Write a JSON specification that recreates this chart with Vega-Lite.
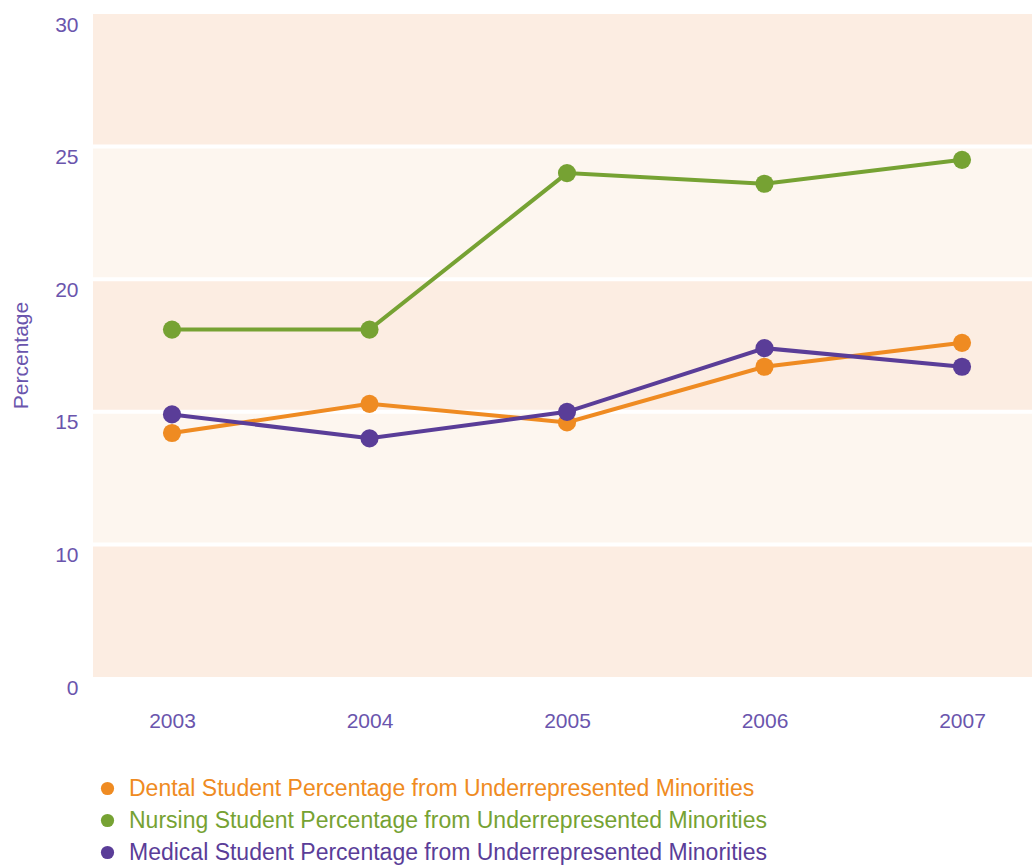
{
  "$schema": "https://vega.github.io/schema/vega-lite/v6.json",
  "width": 948,
  "height": 663,
  "autosize": {"type": "none"},
  "padding": {"left": 93, "top": 14, "right": 0, "bottom": 190},
  "background": "white",
  "config": {
    "view": {"stroke": null},
    "font": "Liberation Sans",
    "axis": {"labelColor": "#6a55ad", "titleColor": "#6a55ad", "labelFont": "Liberation Sans", "titleFont": "Liberation Sans"}
  },
  "layer": [
    {
      "data": {"values": [{"lo": 25, "hi": 30}, {"lo": 15, "hi": 20}, {"lo": 5, "hi": 10}]},
      "mark": {"type": "rect", "color": "#fcede2"},
      "encoding": {
        "y": {"field": "lo", "type": "quantitative", "title": "Percentage", "scale": {"domain": [5, 30], "nice": false, "zero": false},
          "axis": {"values": [5, 10, 15, 20, 25, 30], "labelExpr": "datum.value == 5 ? '0' : datum.label", "grid": false, "domain": false, "ticks": false, "labelPadding": 15, "labelFontSize": 21, "labelBaseline": "top", "titleFontSize": 21, "titleFontWeight": "normal", "titleAngle": -90, "titleBaseline": "top", "titleAlign": "center", "titleX": -83, "titleY": 341}},
        "y2": {"field": "hi"}
      }
    },
    {
      "data": {"values": [{"lo": 20, "hi": 25}, {"lo": 10, "hi": 15}]},
      "mark": {"type": "rect", "color": "#fdf6ef"},
      "encoding": {
        "y": {"field": "lo", "type": "quantitative", "title": "Percentage"},
        "y2": {"field": "hi"}
      }
    },
    {
      "data": {"values": [{"v": 10}, {"v": 15}, {"v": 20}, {"v": 25}]},
      "mark": {"type": "rule", "color": "white", "strokeWidth": 4},
      "encoding": {
        "y": {"field": "v", "type": "quantitative", "title": "Percentage"}
      }
    },
    {
      "data": {"name": "series", "values": [
        {"series": "Dental Student Percentage from Underrepresented Minorities", "year": "2003", "pct": 14.2},
        {"series": "Dental Student Percentage from Underrepresented Minorities", "year": "2004", "pct": 15.3},
        {"series": "Dental Student Percentage from Underrepresented Minorities", "year": "2005", "pct": 14.6},
        {"series": "Dental Student Percentage from Underrepresented Minorities", "year": "2006", "pct": 16.7},
        {"series": "Dental Student Percentage from Underrepresented Minorities", "year": "2007", "pct": 17.6},
        {"series": "Nursing Student Percentage from Underrepresented Minorities", "year": "2003", "pct": 18.1},
        {"series": "Nursing Student Percentage from Underrepresented Minorities", "year": "2004", "pct": 18.1},
        {"series": "Nursing Student Percentage from Underrepresented Minorities", "year": "2005", "pct": 24.0},
        {"series": "Nursing Student Percentage from Underrepresented Minorities", "year": "2006", "pct": 23.6},
        {"series": "Nursing Student Percentage from Underrepresented Minorities", "year": "2007", "pct": 24.5},
        {"series": "Medical Student Percentage from Underrepresented Minorities", "year": "2003", "pct": 14.9},
        {"series": "Medical Student Percentage from Underrepresented Minorities", "year": "2004", "pct": 14.0},
        {"series": "Medical Student Percentage from Underrepresented Minorities", "year": "2005", "pct": 15.0},
        {"series": "Medical Student Percentage from Underrepresented Minorities", "year": "2006", "pct": 17.4},
        {"series": "Medical Student Percentage from Underrepresented Minorities", "year": "2007", "pct": 16.7}
      ]},
      "encoding": {
        "x": {"field": "year", "type": "ordinal", "scale": {"type": "point", "padding": 0.4},
          "axis": {"title": null, "labelAngle": 0, "labelFontSize": 21, "labelPadding": 33, "ticks": false, "domain": false, "grid": false, "labelBaseline": "top"}},
        "y": {"field": "pct", "type": "quantitative", "title": "Percentage"},
        "color": {"field": "series", "type": "nominal",
          "scale": {"domain": [
            "Dental Student Percentage from Underrepresented Minorities",
            "Nursing Student Percentage from Underrepresented Minorities",
            "Medical Student Percentage from Underrepresented Minorities"],
            "range": ["#ef8b22", "#76a233", "#5a3d98"]},
          "legend": {"orient": "none", "legendX": 3, "legendY": 763, "direction": "vertical", "title": null,
            "symbolType": "circle", "symbolSize": 175, "symbolStrokeWidth": 0, "symbolOpacity": 1,
            "labelFontSize": 23, "labelFont": "Liberation Sans", "labelOffset": 10, "rowPadding": 8, "padding": 0, "labelLimit": 1000,
            "labelColor": {"expr": "indexof(datum.label, 'Dental') === 0 ? '#ef8b22' : indexof(datum.label, 'Nursing') === 0 ? '#76a233' : '#5a3d98'"}
          }}
      },
      "layer": [
        {"mark": {"type": "line", "strokeWidth": 4}},
        {"mark": {"type": "circle", "size": 330, "opacity": 1}}
      ]
    }
  ]
}
